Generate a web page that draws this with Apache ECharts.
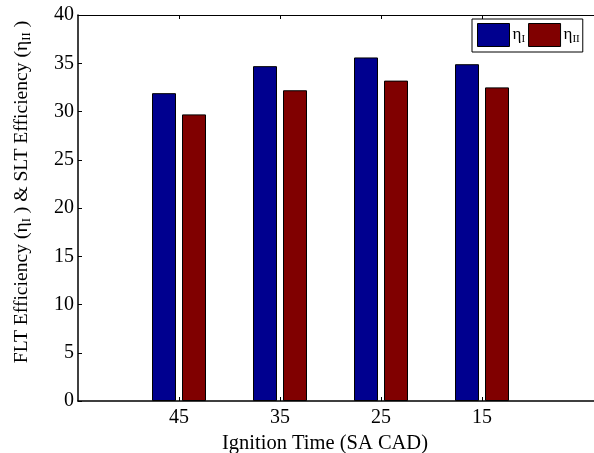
<!DOCTYPE html>
<html><head><meta charset="utf-8">
<script src="https://cdn.jsdelivr.net/npm/echarts@6/dist/echarts.min.js"></script>
<style>html,body{margin:0;padding:0;background:#fff}#c{width:594px;height:453px}</style>
</head><body><div id="c"></div>
<script>
const categories = ['45', '35', '25', '15'];
const etaI = [31.9, 34.7, 35.6, 34.9];
const etaII = [29.7, 32.2, 33.2, 32.5];
const yTicks = [0, 5, 10, 15, 20, 25, 30, 35, 40];

const FONT = "'Liberation Serif','Times New Roman',serif";
const chart = echarts.init(document.getElementById('c'));
const pos = categories.map((c, i) => i + 1);
const subRich = {
  n: {fontFamily: FONT, fontSize: 19.6, color: '#000'},
  s: {fontFamily: FONT, fontSize: 12.8, color: '#000', padding: [9, 0, 0, 0]}
};
chart.setOption({
  animation: false,
  grid: {left: 78, top: 15, right: 0, bottom: 52, outerBoundsMode: 'none', containLabel: false},
  legend: {
    left: 472, top: 19, orient: 'horizontal',
    icon: 'rect',
    itemWidth: 32, itemHeight: 23, itemGap: 3,
    padding: [4, 3, 5, 5],
    borderColor: '#000', borderWidth: 1, backgroundColor: '#fff', borderRadius: 0,
    data: ['ηI', 'ηII'],
    formatter: n => n === 'ηI' ? '{n|η}{s|I}' : '{n|η}{s|II}',
    textStyle: {padding: [0, 0, 0, -2], rich: {
      n: {fontFamily: FONT, fontSize: 17, color: '#000'},
      s: {fontFamily: FONT, fontSize: 11, color: '#000', padding: [8, 0, 0, 0]}
    }},
    itemStyle: {borderColor: '#000', borderWidth: 1}
  },
  xAxis: [{
    type: 'value', min: 0, max: 516 / 101,
    name: 'Ignition Time (SA CAD)', nameLocation: 'middle', nameGap: 28,
    nameTextStyle: {fontFamily: FONT, fontSize: 20.5, color: '#000', padding: [0, 22, 0, 0]},
    axisLine: {show: true, onZero: false, lineStyle: {color: '#000', width: 1.5}},
    axisTick: {show: true, inside: true, length: 4, customValues: pos, lineStyle: {color: '#000'}},
    axisLabel: {customValues: pos, formatter: v => categories[Math.round(v) - 1] || '',
      fontFamily: FONT, fontSize: 20, color: '#000', margin: 7},
    splitLine: {show: false}
  }, {
    type: 'value', position: 'top', min: 0, max: 516 / 101,
    axisLine: {show: true, onZero: false, lineStyle: {color: '#000', width: 1}},
    axisTick: {show: true, inside: true, length: 4, customValues: pos, lineStyle: {color: '#000'}},
    axisLabel: {show: false}, splitLine: {show: false}
  }],
  yAxis: {
    type: 'value', min: 0, max: 40, interval: 5,
    name: 'FLT Efficiency (η{s|I} ) & SLT Efficiency (η{s|II} )',
    nameLocation: 'middle', nameGap: 45, nameRotate: 90,
    nameTextStyle: {fontFamily: FONT, fontSize: 19.6, color: '#000', rich: subRich, padding: [0, 0, 0, 32]},
    axisLine: {show: true, lineStyle: {color: '#000', width: 1.5}},
    axisTick: {show: true, inside: true, length: 4, lineStyle: {color: '#000'}},
    axisLabel: {formatter: v => yTicks.includes(v) ? String(v) : '',
      fontFamily: FONT, fontSize: 20, color: '#000', margin: 4},
    splitLine: {show: false}
  },
  series: [{
    name: 'ηI', type: 'bar', barWidth: 24, barGap: '25%',
    data: etaI.map((v, i) => [pos[i], v]),
    itemStyle: {color: '#00008F', borderColor: '#000', borderWidth: 1}
  }, {
    name: 'ηII', type: 'bar', barWidth: 24, barGap: '25%',
    data: etaII.map((v, i) => [pos[i], v]),
    itemStyle: {color: '#800000', borderColor: '#000', borderWidth: 1}
  }]
});
</script></body></html>
